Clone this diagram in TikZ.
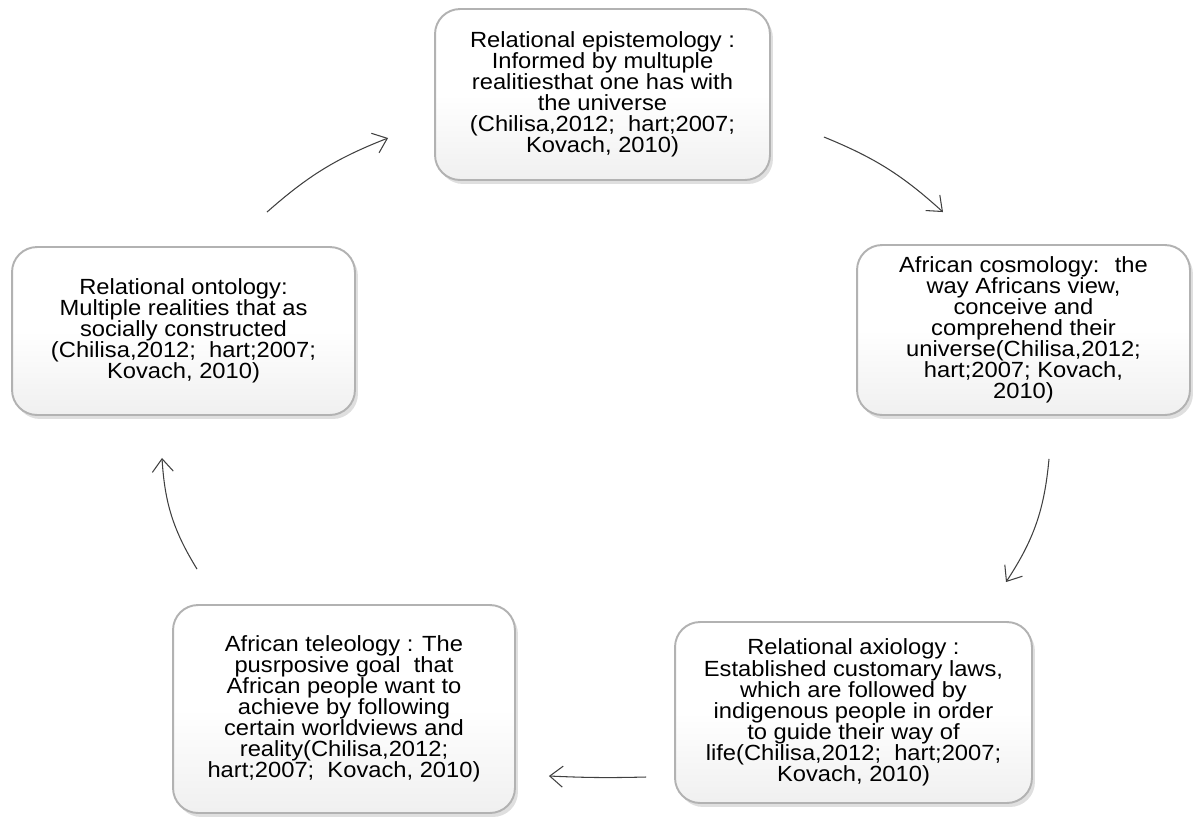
\documentclass[tikz,border=0pt]{standalone}
\usepackage{fontspec}
\setmainfont{Liberation Sans}[FakeStretch=1.08]
\usetikzlibrary{arrows.meta,shadows}

\begin{document}
\begin{tikzpicture}[
  x=0.02cm, y=0.02cm,
  box/.style={rectangle, rounded corners=0.5cm, draw=gray!60, line width=1.1pt,
    top color=white, bottom color=gray!12, middle color=white,
    drop shadow={shadow xshift=0.6mm, shadow yshift=-0.8mm, opacity=0.25},
    align=center, inner sep=2pt, font=\fontsize{12.5}{12}\selectfont},
  flow/.style={draw=black!75, line width=0.6pt, -{Straight Barb[length=2.6mm,width=4.2mm]}}
]
  \useasboundingbox (0,0) rectangle (1194,-816);
  \node[box, minimum width=6.7cm, minimum height=3.42cm] (epi) at (602.5,-94.5)
    {Relational epistemology :\\ Informed by multuple\\ realitiesthat one has with\\ the universe\\ (Chilisa,2012;~ hart;2007;\\ Kovach, 2010)};
  \node[box, minimum width=6.66cm, minimum height=3.4cm] (cosmo) at (1023.5,-330)
    {African cosmology:~ the\\ way Africans view,\\ conceive and\\ comprehend their\\ universe(Chilisa,2012;\\ hart;2007; Kovach,\\ 2010)};
  \node[box, minimum width=7.14cm, minimum height=3.62cm] (axio) at (853.5,-712.5)
    {Relational axiology :\\ Established customary laws,\\ which are followed by\\ indigenous people in order\\ to guide their way of\\ life(Chilisa,2012;~ hart;2007;\\ Kovach, 2010)};
  \node[box, minimum width=6.84cm, minimum height=4.16cm] (teleo) at (344,-709)
    {African teleology : The\\ pusrposive goal~ that\\ African people want to\\ achieve by following\\ certain worldviews and\\ reality(Chilisa,2012;\\ hart;2007;~ Kovach, 2010)};
  \node[box, minimum width=6.86cm, minimum height=3.36cm] (onto) at (183.5,-331)
    {Relational ontology:\\ Multiple realities that as\\ socially constructed\\ (Chilisa,2012;~ hart;2007;\\ Kovach, 2010)};
  % cycle
  \draw[flow] ([shift={(83.5,34)}]onto.north) to[bend left=10] ([shift={(-46,-43.5)}]epi.west);
  \draw[flow] ([shift={(53,-42.5)}]epi.east) to[bend left=10] ([shift={(-80.5,32)}]cosmo.north);
  \draw[flow] ([shift={(25.5,-43)}]cosmo.south) to[bend left=14] ([shift={(152.5,39)}]axio.north);
  \draw[flow] ([shift={(-28,-64.5)}]axio.west) to[bend left=2] ([shift={(33,-67)}]teleo.east);
  \draw[flow] ([shift={(-147,35)}]teleo.north) to[bend left=14] ([shift={(-21.5,-42)}]onto.south);
\end{tikzpicture}
\end{document}
